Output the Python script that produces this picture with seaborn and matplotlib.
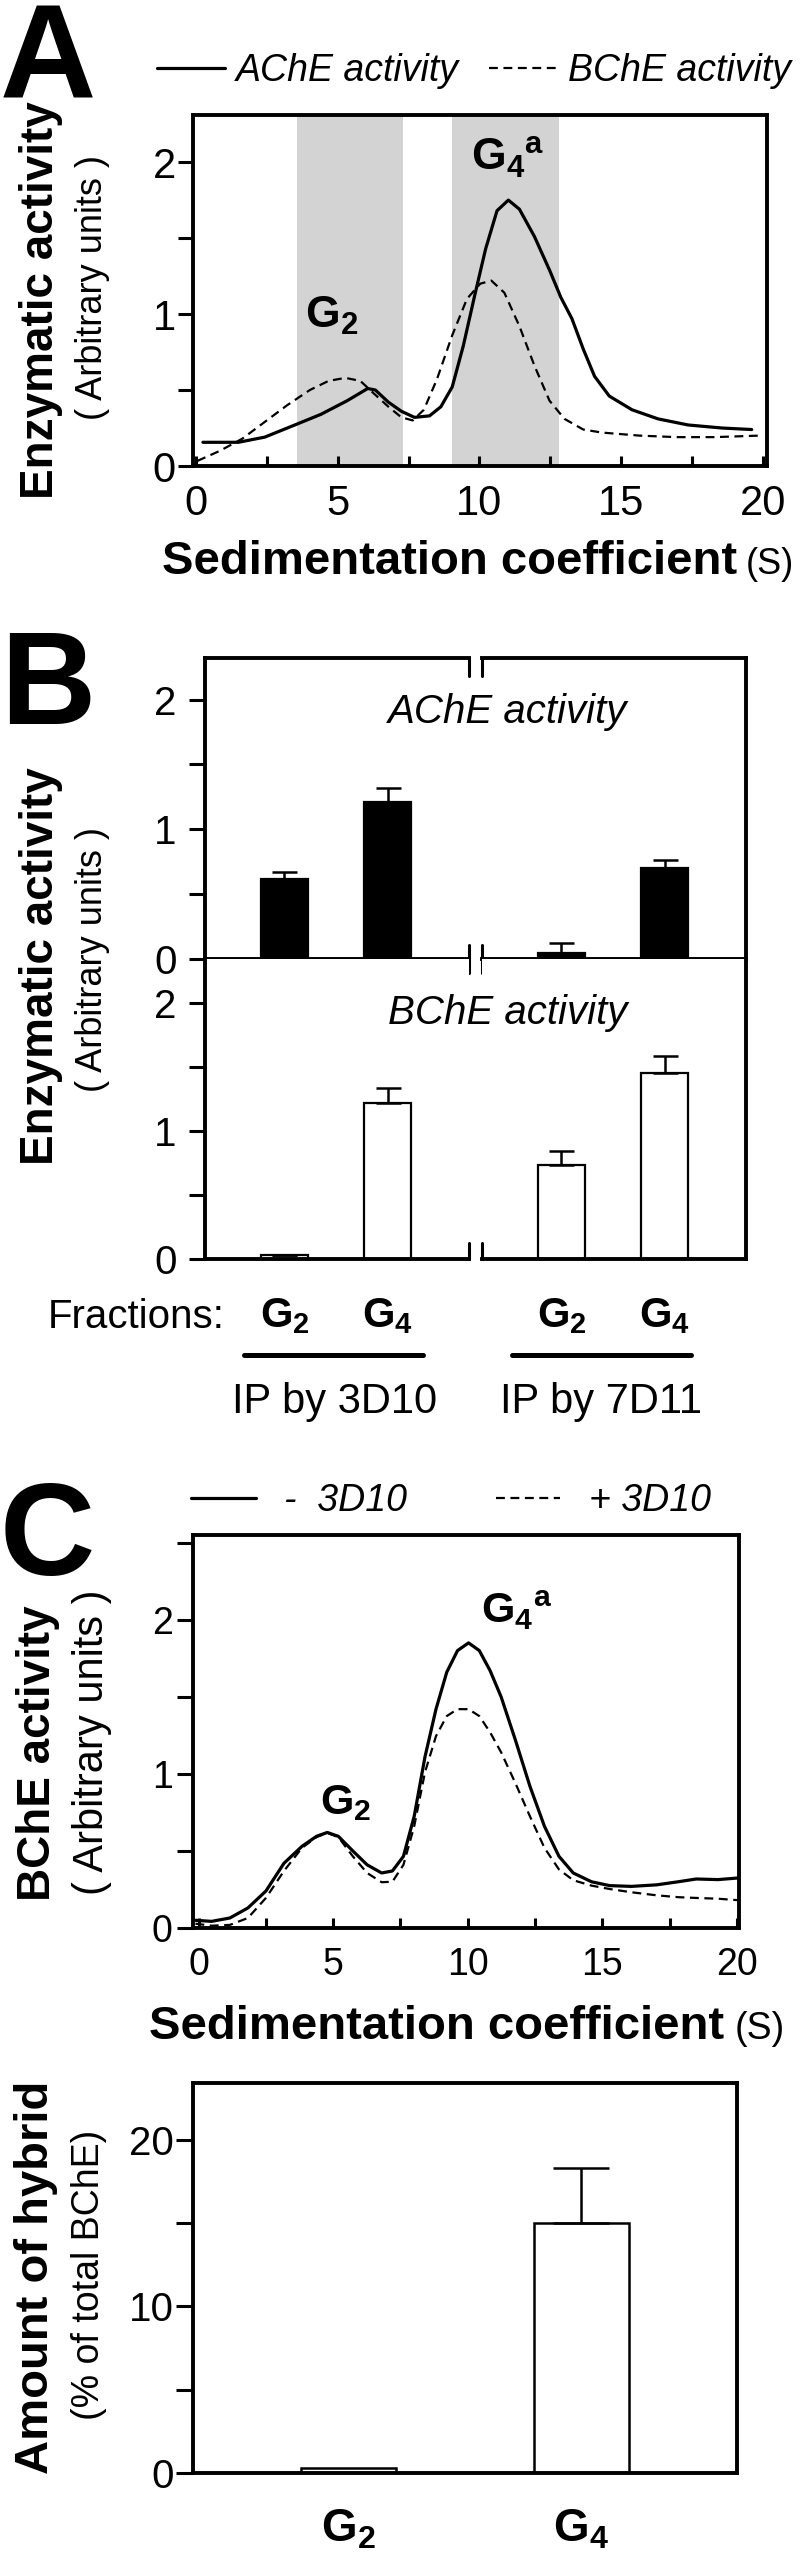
import matplotlib
matplotlib.use('Agg')
import matplotlib.pyplot as plt
import seaborn as sns
from matplotlib import font_manager
from matplotlib.ticker import MultipleLocator

# ---- data ----
# A: sucrose gradient profile
sed_ache = [0.25, 1.5, 2.43, 3.49, 4.41, 5.34, 6.06, 6.33, 6.79, 7.25, 7.71, 8.24, 8.64, 9.04,
            9.43, 9.83, 10.22, 10.62, 11.02, 11.41, 11.94, 12.47, 12.87, 13.26, 13.66, 14.06,
            14.58, 15.38, 16.3, 17.36, 18.55, 19.6]
ache = [0.156, 0.156, 0.19, 0.27, 0.34, 0.43, 0.51, 0.50, 0.42, 0.36, 0.32, 0.33, 0.39, 0.52,
        0.79, 1.12, 1.43, 1.68, 1.75, 1.69, 1.51, 1.29, 1.11, 0.97, 0.77, 0.59,
        0.46, 0.37, 0.31, 0.27, 0.25, 0.24]
sed_bche = [0.05, 0.85, 1.64, 2.43, 3.22, 4.02, 4.68, 5.27, 5.8, 6.26, 6.79, 7.25, 7.65, 8.04,
            8.5, 9.04, 9.56, 10.03, 10.42, 10.88, 11.41, 11.94, 12.47, 13.0, 13.66, 14.32,
            15.64, 16.96, 18.28, 19.87]
bche = [0.033, 0.10, 0.18, 0.29, 0.40, 0.50, 0.56, 0.58, 0.56, 0.48, 0.39, 0.32, 0.30, 0.37,
        0.57, 0.86, 1.10, 1.20, 1.22, 1.14, 0.92, 0.66, 0.43, 0.31, 0.24, 0.22,
        0.20, 0.19, 0.19, 0.20]
g2_band = (3.55, 7.32)
g4_band = (9.04, 12.8)

# B: immunoprecipitation
fractions = ['G2', 'G4']
ache_3d10 = [0.62, 1.21]
ache_3d10_err = [0.05, 0.11]
ache_7d11 = [0.05, 0.70]
ache_7d11_err = [0.07, 0.06]
bche_3d10 = [0.03, 1.22]
bche_3d10_err = [0.005, 0.11]
bche_7d11 = [0.73, 1.45]
bche_7d11_err = [0.11, 0.13]

# C: BChE profile with / without 3D10
sed_c = [-0.12, 0.48, 1.16, 1.83, 2.5, 3.17, 3.84, 4.38, 4.78, 5.19, 5.73, 6.26, 6.8, 7.2,
         7.61, 8.01, 8.41, 8.82, 9.22, 9.62, 10.03, 10.43, 10.83, 11.24, 11.77, 12.31,
         12.85, 13.39, 13.92, 14.6, 15.27, 16.08, 17.02, 17.82, 18.49, 19.3, 20.08]
minus_3d10 = [0.05, 0.043, 0.065, 0.13, 0.24, 0.42, 0.53, 0.595, 0.62, 0.595, 0.50, 0.41, 0.357,
              0.37, 0.465, 0.725, 1.11, 1.42, 1.66, 1.80, 1.85, 1.80, 1.67, 1.50, 1.22, 0.92,
              0.66, 0.465, 0.357, 0.30, 0.275, 0.27, 0.28, 0.30, 0.318, 0.314, 0.325]
plus_3d10 = [0.028, 0.015, 0.02, 0.065, 0.195, 0.37, 0.52, 0.59, 0.617, 0.59, 0.465, 0.357, 0.297,
             0.30, 0.41, 0.66, 1.01, 1.245, 1.375, 1.42, 1.42, 1.375, 1.27, 1.14, 0.94, 0.725,
             0.52, 0.38, 0.31, 0.275, 0.253, 0.232, 0.212, 0.20, 0.195, 0.19, 0.18]

# D: amount of hybrid
hybrid = [0.3, 15.0]
hybrid_err = [0.0, 3.3]

# ---- style ----
names = {f.name for f in font_manager.fontManager.ttflist}
REG = 'Liberation Sans' if 'Liberation Sans' in names else 'DejaVu Sans'
NARROW = 'Liberation Sans Narrow' if 'Liberation Sans Narrow' in names else REG

sns.set_theme(style='ticks', rc={
    'axes.edgecolor': 'black', 'text.color': 'black', 'xtick.color': 'black',
    'ytick.color': 'black', 'axes.labelcolor': 'black', 'axes.linewidth': 2.8,
})
plt.rcParams['font.family'] = [REG, 'DejaVu Sans']
plt.rcParams['mathtext.fontset'] = 'custom'
plt.rcParams['mathtext.rm'] = REG
plt.rcParams['mathtext.bf'] = REG + ':bold'
plt.rcParams['mathtext.it'] = REG + ':italic'

W, H = 800, 2555
fig = plt.figure(figsize=(W / 100, H / 100), dpi=100)


def box(l, t, r, b):
    return [l / W, 1 - b / H, (r - l) / W, (b - t) / H]


def ftext(x, y, s, **kw):
    fig.text(x / W, 1 - y / H, s, **kw)


def g_label(s):
    return r'$\mathbf{' + s[0] + '_' + s[1:] + '}$'


G4A = r'$\mathbf{G_4}^{\mathbf{a}}$'
dash = (0, (4, 2.5))

# ================= A =================
ftext(0, 2, 'A', fontsize=96, weight='bold', family=NARROW, va='top', ha='left')
axA = fig.add_axes(box(193, 115, 767, 466))
axA.axvspan(*g2_band, color='#d3d3d3', lw=0, zorder=0)
axA.axvspan(*g4_band, color='#d3d3d3', lw=0, zorder=0)
sns.lineplot(x=sed_ache, y=ache, ax=axA, color='black', lw=2.3, label='AChE activity')
sns.lineplot(x=sed_bche, y=bche, ax=axA, color='black', lw=1.6, linestyle=dash,
             label='BChE activity')
axA.set_xlim(-0.1, 20.14)
axA.set_ylim(0, 2.31)
axA.set_xlabel('')
axA.set_ylabel('')
axA.xaxis.set_major_locator(MultipleLocator(5))
axA.xaxis.set_minor_locator(MultipleLocator(2.5))
axA.yaxis.set_major_locator(MultipleLocator(1))
axA.yaxis.set_minor_locator(MultipleLocator(0.5))
axA.tick_params(axis='x', which='both', direction='in', length=7, width=2.2, pad=13,
                labelsize=30, labelfontfamily=NARROW)
axA.tick_params(axis='y', which='both', direction='out', length=11, width=2.2, pad=1.5,
                labelsize=30, labelfontfamily=NARROW)
axA.legend(loc='center', bbox_to_anchor=(474 / W, 1 - 71 / H), bbox_transform=fig.transFigure,
           ncol=2, frameon=False, prop=dict(family=REG, style='italic', size=27),
           handlelength=1.8, handletextpad=0.3, columnspacing=0.8, borderpad=0, borderaxespad=0)
axA.text(4.8, 0.99, g_label('G2'), fontsize=32, ha='center', va='center')
axA.text(11.0, 2.03, G4A, fontsize=32, ha='center', va='center')
ftext(41, 300, 'Enzymatic activity', rotation=90, fontsize=33, weight='bold',
      ha='center', va='center')
ftext(92, 288, '( Arbitrary units )', rotation=90, fontsize=26, ha='center', va='center')
ftext(737, 574, 'Sedimentation coefficient', fontsize=34, weight='bold', ha='right',
      va='baseline')
ftext(746, 574, '(S)', fontsize=26, ha='left', va='baseline')

# ================= B =================
ftext(0, 628, 'B', fontsize=95, weight='bold', family=NARROW, va='top', ha='left')
panels = [
    (box(205, 658, 469, 959), ache_3d10, ache_3d10_err, 'black', 'left', 'top'),
    (box(482, 658, 746, 959), ache_7d11, ache_7d11_err, 'black', 'right', 'top'),
    (box(205, 959, 469, 1259), bche_3d10, bche_3d10_err, 'white', 'left', 'bottom'),
    (box(482, 959, 746, 1259), bche_7d11, bche_7d11_err, 'white', 'right', 'bottom'),
]
for rect, vals, errs, fc, side, row in panels:
    ax = fig.add_axes(rect)
    sns.barplot(x=fractions, y=vals, ax=ax, color=fc, edgecolor='black', linewidth=1.6,
                width=0.45, saturation=1)
    ax.errorbar([0, 1], vals, yerr=[[0, 0], errs], fmt='none', ecolor='black',
                elinewidth=1.8, capsize=9, capthick=1.8)
    ax.set_xlim(-0.77, 1.79)
    ax.set_ylim(0, 2.32 if row == 'top' else 2.34)
    ax.set_xlabel('')
    ax.set_ylabel('')
    if side == 'left':
        ax.spines['right'].set_visible(False)
        ax.yaxis.set_major_locator(MultipleLocator(1))
        ax.yaxis.set_minor_locator(MultipleLocator(0.5))
        ax.tick_params(axis='y', which='both', direction='out', length=11.5, width=2.2,
                       pad=9, labelsize=29, labelfontfamily=NARROW)
        xb = 1
    else:
        ax.spines['left'].set_visible(False)
        ax.set_yticks([])
        xb = 0
    if row == 'top':
        ax.set_xticks([])
        ax.plot([xb, xb], [1, 1 - 18 / 301], transform=ax.transAxes, clip_on=False,
                color='black', lw=2.2)
        ax.plot([xb, xb], [-14 / 301, 14 / 301], transform=ax.transAxes, clip_on=False,
                color='black', lw=2.2)
    else:
        ax.spines['top'].set_visible(False)
        ax.set_xticks([0, 1], labels=[g_label(f) for f in fractions])
        ax.tick_params(axis='x', length=0, pad=27, labelsize=30)
        ax.plot([xb, xb], [0, 16 / 300], transform=ax.transAxes, clip_on=False,
                color='black', lw=2.2)

ftext(508, 712, 'AChE activity', fontsize=29, style='italic', ha='center', va='center')
ftext(508, 1013, 'BChE activity', fontsize=29, style='italic', ha='center', va='center')
ftext(41, 966, 'Enzymatic activity', rotation=90, fontsize=33, weight='bold',
      ha='center', va='center')
ftext(92, 960, '( Arbitrary units )', rotation=90, fontsize=26, ha='center', va='center')
ftext(48, 1328, 'Fractions:', fontsize=29, ha='left', va='baseline')
for x0, x1 in [(244, 423), (512, 691)]:
    fig.add_artist(plt.Line2D([x0 / W, x1 / W], [1 - 1355 / H] * 2, color='black', lw=3.6))
ftext(335, 1402, 'IP by 3D10', fontsize=30, ha='center', va='center')
ftext(601, 1402, 'IP by 7D11', fontsize=30, ha='center', va='center')

# ================= C =================
ftext(0, 1479, 'C', fontsize=95, weight='bold', family=NARROW, va='top', ha='left')
axC = fig.add_axes(box(193, 1535, 739, 1928))
sns.lineplot(x=sed_c, y=minus_3d10, ax=axC, color='black', lw=2.3, label='-  3D10')
sns.lineplot(x=sed_c, y=plus_3d10, ax=axC, color='black', lw=1.6, linestyle=dash,
             label='+ 3D10')
axC.set_xlim(-0.21, 20.08)
axC.set_ylim(0, 2.55)
axC.set_xlabel('')
axC.set_ylabel('')
axC.xaxis.set_major_locator(MultipleLocator(5))
axC.xaxis.set_minor_locator(MultipleLocator(2.5))
axC.yaxis.set_major_locator(MultipleLocator(1))
axC.yaxis.set_minor_locator(MultipleLocator(0.5))
axC.tick_params(axis='x', which='both', direction='in', length=7, width=2.2, pad=14,
                labelsize=27)
axC.tick_params(axis='y', which='both', direction='out', length=11.5, width=2.2, pad=3,
                labelsize=27)
axC.legend(loc='center', bbox_to_anchor=(451 / W, 1 - 1501 / H), bbox_transform=fig.transFigure,
           ncol=2, frameon=False, prop=dict(family=REG, style='italic', size=27),
           handlelength=1.73, handletextpad=0.75, columnspacing=2.35, borderpad=0,
           borderaxespad=0)
axC.text(5.46, 0.81, g_label('G2'), fontsize=31, ha='center', va='center')
axC.text(11.8, 2.06, G4A, fontsize=31, ha='center', va='center')
ftext(38, 1753, 'BChE activity', rotation=90, fontsize=33, weight='bold',
      ha='center', va='center')
ftext(92, 1742, '( Arbitrary units )', rotation=90, fontsize=30, family=NARROW,
      ha='center', va='center')
ftext(724, 2039, 'Sedimentation coefficient', fontsize=34, weight='bold', ha='right',
      va='baseline')
ftext(735, 2039, '(S)', fontsize=27, ha='left', va='baseline')

# ================= D =================
axD = fig.add_axes(box(193, 2083, 737, 2473))
sns.barplot(x=fractions, y=hybrid, ax=axD, color='white', edgecolor='black', linewidth=1.8,
            width=0.41, saturation=1)
err_x = [i for i, e in enumerate(hybrid_err) if e > 0]
axD.errorbar(err_x, [hybrid[i] for i in err_x], yerr=[[0] * len(err_x), [hybrid_err[i] for i in err_x]],
             fmt='none', ecolor='black', elinewidth=1.8, capsize=20, capthick=1.8)
axD.set_xlim(-0.67, 1.67)
axD.set_ylim(0, 23.4)
axD.set_xlabel('')
axD.set_ylabel('')
axD.yaxis.set_major_locator(MultipleLocator(10))
axD.yaxis.set_minor_locator(MultipleLocator(5))
axD.tick_params(axis='y', which='both', direction='out', length=12, width=2.2, pad=2,
                labelsize=29)
axD.set_xticks([0, 1], labels=[g_label(f) for f in fractions])
axD.tick_params(axis='x', length=0, pad=25, labelsize=33)
ftext(36, 2277, 'Amount of hybrid', rotation=90, fontsize=34, weight='bold',
      ha='center', va='center')
ftext(89, 2275, '(% of total BChE)', rotation=90, fontsize=27, ha='center', va='center')

fig.savefig('out.png', dpi=100)
